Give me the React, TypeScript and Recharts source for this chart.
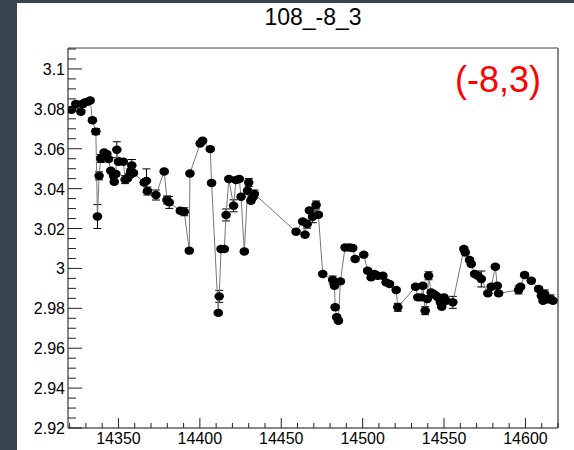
import React from "react";
import { LineChart, Line, XAxis, YAxis, ErrorBar, ReferenceArea, ReferenceLine } from "recharts";

const xs = [
  14321.1, 14323.8, 14326.9, 14327.9, 14329.3, 14330.9, 14332.6, 14334.0, 14336.1, 14337.1,
  14338.1, 14339.2, 14341.2, 14342.9, 14343.9, 14345.3, 14347.0, 14347.4, 14348.4, 14349.0,
  14350.0, 14353.0, 14354.1, 14355.5, 14357.0, 14357.6, 14358.2, 14359.2, 14365.8, 14367.2,
  14367.8, 14373.0, 14378.1, 14379.8, 14381.2, 14388.0, 14390.4, 14393.5, 14393.9, 14400.2,
  14401.7, 14406.4, 14407.2, 14411.3, 14411.9, 14413.0, 14415.0, 14416.1, 14417.8, 14420.7,
  14422.2, 14424.2, 14425.3, 14427.3, 14429.3, 14430.0, 14431.4, 14432.4, 14433.5, 14459.1,
  14463.2, 14464.6, 14465.9, 14467.3, 14469.3, 14471.4, 14472.8, 14475.5, 14481.6, 14482.7,
  14483.1, 14484.1, 14485.1, 14486.3, 14489.2, 14491.9, 14493.9, 14495.4, 14500.7, 14503.1,
  14505.2, 14507.2, 14509.3, 14512.4, 14514.4, 14516.5, 14520.6, 14521.6, 14532.5, 14533.9,
  14536.0, 14537.0, 14538.4, 14539.7, 14540.5, 14542.1, 14543.7, 14545.2, 14546.2, 14547.8,
  14548.6, 14549.9, 14551.3, 14555.4, 14562.2, 14563.0, 14565.7, 14566.7, 14568.8, 14570.8,
  14572.9, 14576.9, 14579.0, 14581.5, 14582.7, 14583.5, 14595.8, 14597.0, 14599.5, 14603.6,
  14608.1, 14609.8, 14610.8, 14611.8, 14613.5, 14615.5, 14616.9,
];

const ys = [
  3.0795, 3.0824, 3.0785, 3.0824, 3.0832, 3.0835, 3.0842, 3.0743, 3.0686, 3.026,
  3.0464, 3.0551, 3.0581, 3.0573, 3.0548, 3.049, 3.0464, 3.0434, 3.0473, 3.0595,
  3.0535, 3.0535, 3.0445, 3.0451, 3.0468, 3.049, 3.0516, 3.0478, 3.0431, 3.0439,
  3.0388, 3.0368, 3.0486, 3.0343, 3.0331, 3.0289, 3.0284, 3.0089, 3.0476, 3.0626,
  3.064, 3.0598, 3.0428, 2.9777, 2.986, 3.0097, 3.0097, 3.0268, 3.0448, 3.0314,
  3.0443, 3.0448, 3.0359, 3.0085, 3.0389, 3.0431, 3.0339, 3.0356, 3.0373, 3.0184,
  3.0235, 3.0169, 3.0222, 3.0291, 3.0259, 3.0318, 3.0269, 2.9972, 2.9942, 2.9913,
  2.9805, 2.9755, 2.9738, 2.9935, 3.0105, 3.0105, 3.0102, 3.0047, 3.0069, 2.9988,
  2.9955, 2.9972, 2.9963, 2.9963, 2.993, 2.9922, 2.9892, 2.9805, 2.9908, 2.9855,
  2.9855, 2.9913, 2.9788, 2.9847, 2.9963, 2.988, 2.9872, 2.9863, 2.9855, 2.983,
  2.9808, 2.9855, 2.9838, 2.983, 3.0097, 3.008, 3.0042, 3.0022, 2.9972, 2.9963,
  2.9947, 2.9875, 2.9908, 3.0008, 2.9913, 2.9875, 2.9892, 2.9908, 2.9967, 2.9938,
  2.9897, 2.9863, 2.9838, 2.9872, 2.9847, 2.9847, 2.9838,
];

const errs = [
  0.001, 0.001, 0.001, 0.0015, 0.001, 0.001, 0.001, 0.001, 0.0015, 0.006,
  0.002, 0.002, 0.001, 0.001, 0.001, 0.001, 0.001, 0.001, 0.001, 0.004,
  0.001, 0.001, 0.002, 0.001, 0.001, 0.001, 0.003, 0.001, 0.001, 0.006,
  0.002, 0.0025, 0.001, 0.002, 0.003, 0.001, 0.002, 0.001, 0.001, 0.001,
  0.001, 0.001, 0.001, 0.001, 0.003, 0.001, 0.001, 0.003, 0.001, 0.003,
  0.001, 0.001, 0.001, 0.001, 0.001, 0.002, 0.001, 0.001, 0.002, 0.001,
  0.001, 0.001, 0.002, 0.001, 0.003, 0.002, 0.001, 0.001, 0.002, 0.001,
  0.001, 0.001, 0.001, 0.001, 0.001, 0.001, 0.001, 0.001, 0.001, 0.001,
  0.001, 0.001, 0.001, 0.001, 0.001, 0.001, 0.001, 0.002, 0.001, 0.001,
  0.001, 0.001, 0.002, 0.001, 0.002, 0.001, 0.001, 0.001, 0.001, 0.001,
  0.001, 0.001, 0.001, 0.003, 0.001, 0.001, 0.001, 0.001, 0.001, 0.001,
  0.004, 0.001, 0.001, 0.001, 0.001, 0.001, 0.002, 0.001, 0.001, 0.001,
  0.001, 0.001, 0.001, 0.002, 0.001, 0.002, 0.001,
];

const xTicks: number[] = [];
for (let v = 14320; v <= 14620; v += 10) xTicks.push(v);
const yTicksInt: number[] = [];
for (let v = 2920; v <= 3110; v += 5) yTicksInt.push(v);
const yTicks = yTicksInt.map((v) => v / 1000);

const titleText = "108_-8_3";
const labelText = "(-8,3)";

const data = xs.map((x, i) => ({ x, y: ys[i], e: errs[i] }));

const FONT = '"Liberation Sans", Arial, Helvetica, sans-serif';

const XTick = (props: any) => {
  const { x, y, payload } = props;
  const v = payload.value;
  const major = Math.round(v) % 50 === 0;
  return (
    <g>
      <line x1={x} x2={x} y1={y} y2={y - (major ? 10 : 5)} stroke="#222" strokeWidth={1} />
      {major && (
        <text x={x} y={y + 16} textAnchor="middle" fontSize={16} fontFamily={FONT} fill="#000">
          {String(v)}
        </text>
      )}
    </g>
  );
};

const YTick = (props: any) => {
  const { x, y, payload } = props;
  const vi = Math.round(payload.value * 1000);
  const major = (vi - 2920) % 20 === 0;
  return (
    <g>
      <line x1={x} x2={x + (major ? 14 : 8)} y1={y} y2={y} stroke="#222" strokeWidth={1} />
      {major && (
        <text x={x - 3} y={y + 6} textAnchor="end" fontSize={16} fontFamily={FONT} fill="#000">
          {String(vi / 1000)}
        </text>
      )}
    </g>
  );
};

const Dot = (props: any) => {
  const { cx, cy, index } = props;
  if (cx == null || cy == null) return <g key={index} />;
  return <ellipse key={index} cx={cx} cy={cy} rx={4.8} ry={4.2} fill="#000" />;
};

export default function App() {
  return (
    <div style={{ position: "absolute", left: 0, top: 0, width: 574, height: 450, background: "#37454f", overflow: "hidden" }}>
      <div style={{ position: "absolute", left: 17, top: 3, right: 0, bottom: 0, background: "#fff" }} />
      <div style={{ position: "absolute", left: 0, top: 0 }}>
        <LineChart width={574} height={450} data={data} margin={{ top: 48, right: 16, bottom: 0, left: 0 }}>
          <XAxis
            dataKey="x"
            type="number"
            domain={[14319, 14620]}
            allowDataOverflow
            ticks={xTicks}
            interval={0}
            tickSize={0}
            tickMargin={0}
            tickLine={false}
            height={22}
            axisLine={{ stroke: "#888", strokeWidth: 2 }}
            tick={<XTick />}
          />
          <YAxis
            type="number"
            domain={[2.92, 3.1105]}
            allowDataOverflow
            ticks={yTicks}
            interval={0}
            tickSize={0}
            tickMargin={0}
            tickLine={false}
            width={68}
            axisLine={{ stroke: "#888", strokeWidth: 2 }}
            tick={<YTick />}
          />
          <ReferenceArea x1={14319} x2={14620} y1={2.92} y2={3.1105} fill="none" stroke="#444" strokeWidth={1} />
          <ReferenceLine x={14620} stroke="#888" strokeWidth={2} />
          <Line
            dataKey="y"
            stroke="#777"
            strokeWidth={1}
            isAnimationActive={false}
            dot={<Dot />}
            activeDot={false}
          >
            <ErrorBar dataKey="e" width={4} stroke="#000" strokeWidth={1} direction="y" />
          </Line>
        </LineChart>
      </div>
      <svg width={574} height={450} style={{ position: "absolute", left: 0, top: 0, pointerEvents: "none" }}>
        <text x={313} y={25} textAnchor="middle" fontSize={23} fontFamily={FONT} fill="#000">
          {titleText}
        </text>
        <text x={455} y={92} fontSize={36} fontFamily={FONT} fill="#ff0000">
          {labelText}
        </text>
      </svg>
    </div>
  );
}
